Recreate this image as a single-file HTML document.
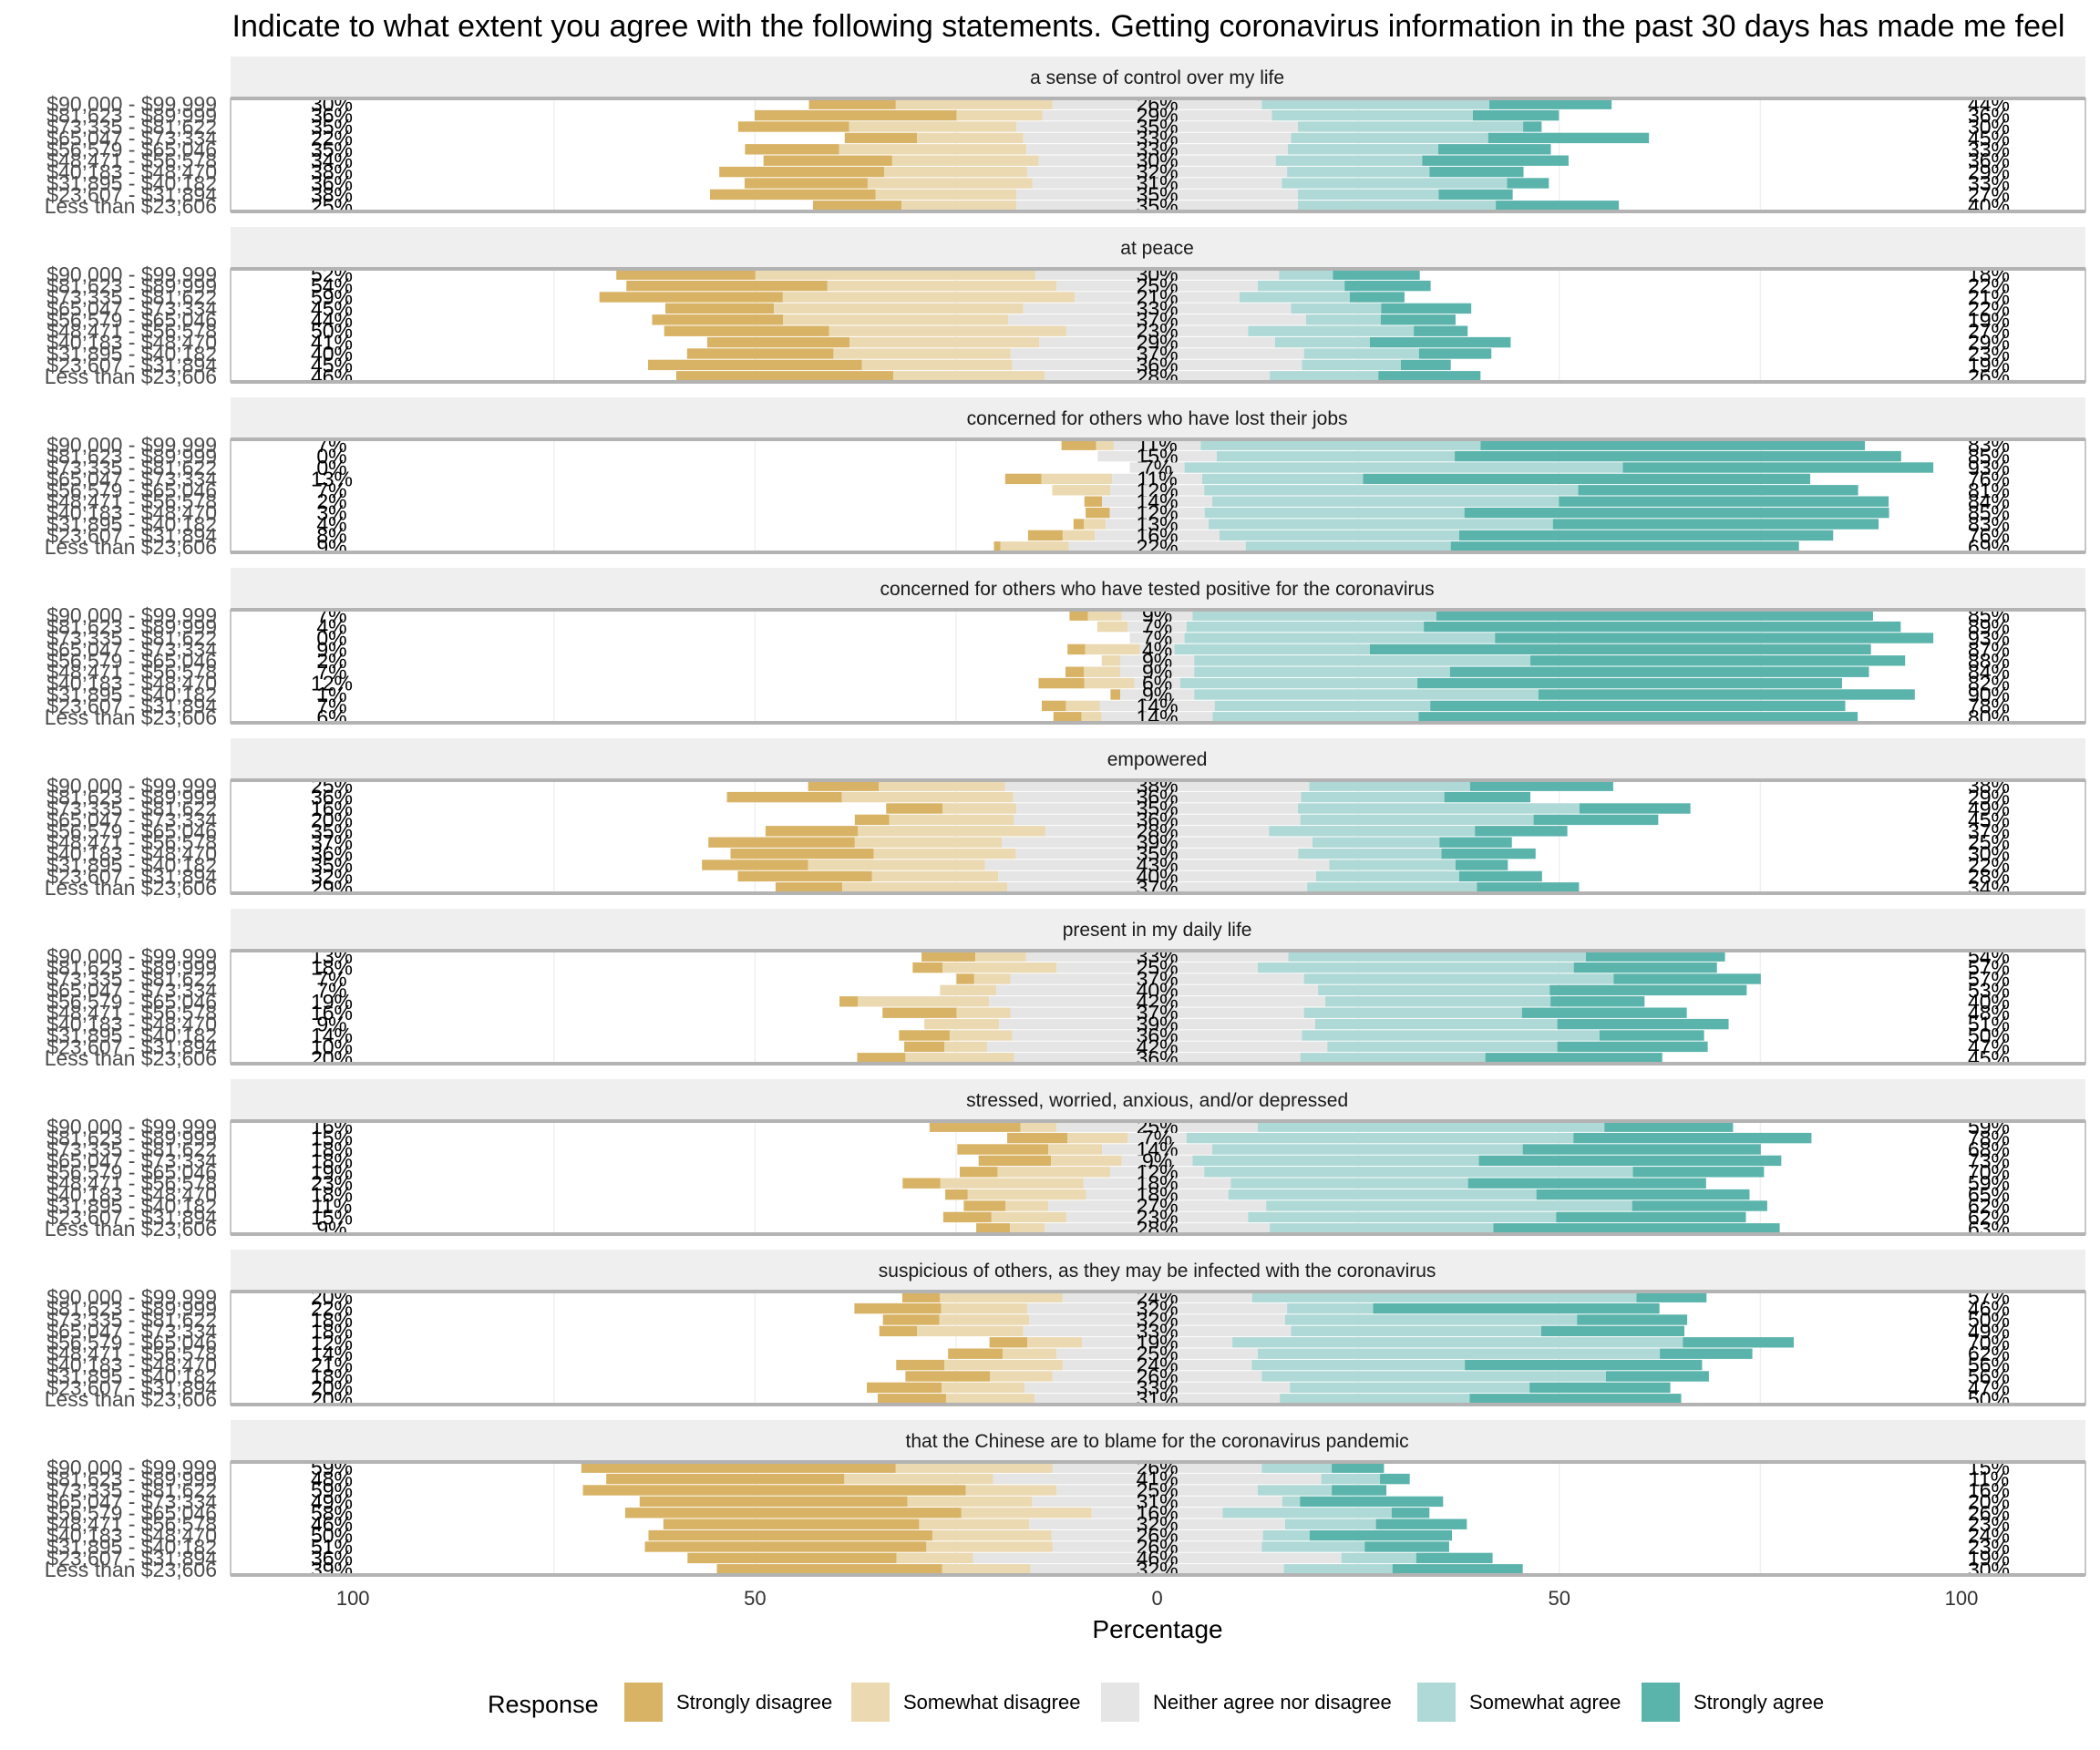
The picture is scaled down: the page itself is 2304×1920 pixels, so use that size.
<!DOCTYPE html>
<html><head><meta charset="utf-8"><style>
html,body{margin:0;padding:0;background:#fff;}
svg{display:block;font-family:"Liberation Sans",sans-serif;}
</style></head><body>
<svg id="chart" width="2304" height="1920" viewBox="0 0 2304 1920" xmlns="http://www.w3.org/2000/svg">
<text x="1260" y="40" font-size="34" text-anchor="middle" fill="#000">Indicate to what extent you agree with the following statements. Getting coronavirus information in the past 30 days has made me feel</text>
<g id="panels"></g>
<g id="xaxis"></g>
<text x="1270" y="1797" font-size="28" text-anchor="middle" fill="#000">Percentage</text>
<g id="legend"></g>
</svg>
<script>
const statements = ["a sense of control over my life","at peace","concerned for others who have lost their jobs","concerned for others who have tested positive for the coronavirus","empowered","present in my daily life","stressed, worried, anxious, and/or depressed","suspicious of others, as they may be infected with the coronavirus","that the Chinese are to blame for the coronavirus pandemic"];
const incomes = ["$90,000 - $99,999","$81,623 - $89,999","$73,335 - $81,622","$65,047 - $73,334","$56,579 - $65,046","$48,471 - $56,578","$40,183 - $48,470","$31,895 - $40,182","$23,607 - $31,894","Less than $23,606"];
const responses = ["Strongly disagree","Somewhat disagree","Neither agree nor disagree","Somewhat agree","Strongly agree"];
const xTicks = [-100,-50,0,50,100];
const xTickLabels = ["100","50","0","50","100"];
const stronglyDisagree = [
[10.8,25.1,13.8,9,11.7,16,20.5,15.3,20.6,11],
[17.3,25,22.8,13.5,16.3,20.5,17.7,18.2,26.6,27],
[4.3,0,0,4.5,0,2.2,3,1.3,4.3,0.8],
[2.3,0,0,2.2,0,2.3,5.7,1.2,3,3.5],
[8.8,14.3,7,4.3,11.5,18.2,17.8,13.2,16.7,8.3],
[6.7,3.7,2.2,0,2.3,9.2,0,6.3,5,6],
[11.3,7.5,11.3,9,4.7,4.7,2.8,5.2,6,4.2],
[4.7,10.8,7,4.7,4.7,6.8,6,10.5,9.3,8.5],
[39.1,29.6,47.6,33.3,41.8,31.8,35.3,35,26,28]];
const somewhatDisagree = [
[19.5,10.7,20.8,13.2,23.3,18.2,17.8,20.5,17.5,14.3],
[34.8,28.5,36.3,31,28,29.5,23.6,22,18.7,18.8],
[2.2,0,0,8.8,7.2,0,0,2.7,4,8.5],
[4.2,3.8,0,6.8,2.3,4.5,6.2,0,4.2,2.5],
[15.7,21.3,9.2,15.5,23.3,18.3,17.7,22,15.7,20.5],
[6.3,14.2,4.5,7,16.3,6.7,9.3,7.8,5.3,13.5],
[4.5,7.5,6.7,8.8,14,17.8,14.7,5.3,9.3,4.3],
[15.2,10.7,11.2,13.2,6.8,6.7,14.7,7.8,10.3,11],
[19.5,18.5,11.3,15.5,16.2,13.7,14.8,15.7,9.5,11]];
const neutral = [
[26,28.5,35,33.3,32.5,29.5,32.3,31,35,35],
[30.3,25,20.5,33.3,37,22.6,29.3,36.5,36,28],
[10.8,14.8,6.8,11.2,11.7,13.7,11.8,12.8,15.5,22],
[8.8,7.3,6.8,4.3,9.2,9.2,5.7,9.2,14.3,13.8],
[37.8,35.8,35,35.6,27.8,38.6,35.1,42.8,39.5,37.3],
[32.6,25,36.5,40,41.8,36.5,39.3,36,42.3,35.6],
[25,7.3,13.7,8.8,11.7,18.3,17.7,27.1,22.6,28],
[23.6,32.3,31.8,33.3,18.7,25,23.5,26,33,30.5],
[26,40.8,25,31.1,16.3,31.8,26.3,26,45.8,31.5]];
const somewhatAgree = [
[28.3,25,28,24.5,18.7,18.2,17.7,28,17.5,24.6],
[6.7,10.8,13.7,11.2,9.3,20.6,11.8,14.3,12.3,13.5],
[34.8,29.6,54.5,20,46.5,43.1,32.3,42.8,29.8,25.5],
[30.3,29.5,38.6,24.3,41.8,31.8,29.5,42.8,26.8,25.6],
[20,17.8,35,29,25.6,15.8,17.8,15.7,17.8,21.1],
[37,39.3,38.5,28.8,28,27.1,30.1,37,28.6,23],
[43.1,48.1,38.6,35.6,53.3,29.5,38.3,45.5,38.3,27.8],
[47.8,10.7,36.3,31.1,56,50,26.5,42.8,29.8,23.6],
[8.7,7.3,9.2,2.2,21,11.3,5.8,12.8,9.3,13.5]];
const stronglyAgree = [
[15.2,10.7,2.3,20,14,18.2,11.7,5.2,9.2,15.3],
[10.8,10.7,6.8,11.2,9.3,6.7,17.5,9,6.2,12.7],
[47.8,55.5,38.6,55.6,34.8,41,52.8,40.5,46.5,43.3],
[54.3,59.3,54.5,62.3,46.6,52.1,52.8,46.8,51.6,54.6],
[17.8,10.7,13.8,15.5,11.5,9,11.7,6.5,10.3,12.7],
[17.3,17.8,18.3,24.5,11.7,20.5,21.3,13,18.7,22],
[16,29.6,29.6,37.6,16.3,29.6,26.5,16.8,23.6,35.6],
[8.7,35.6,13.7,17.8,13.8,11.5,29.5,12.8,17.5,26.3],
[6.5,3.7,6.8,17.8,4.7,11.3,17.7,10.5,9.5,16.2]];

const colors = ["#d8b365","#ebd9b2","#e5e5e5","#afd9d6","#5ab4ac"];
const NS = "http://www.w3.org/2000/svg";
const X0 = 1269.6, PX = 8.824;
const xs = v => X0 + v * PX;
const PL = 253, PR = 2288, PERIOD = 187, STRIP_TOP = 62, PANEL_TOP = 108, PANEL_H = 124;
const band = PANEL_H / incomes.length;
function mk(tag, attrs, parent) { const e = document.createElementNS(NS, tag); for (const k in attrs) e.setAttribute(k, attrs[k]); parent.appendChild(e); return e; }
const panels = document.getElementById("panels");
statements.forEach((st, p) => {
  const g = mk("g", {}, panels);
  
  
  const sTop = STRIP_TOP + p * PERIOD, pTop = PANEL_TOP + p * PERIOD;
  const strip = mk("rect", {x: PL, y: sTop, width: PR - PL, height: pTop - sTop - 2, fill: "#efefef"}, g);
  
  
  const stt = mk("text", {x: X0, y: sTop + (pTop - sTop) / 2 + 7, "font-size": 21, "text-anchor": "middle", fill: "#1a1a1a"}, g);
  stt.textContent = st;
  
  
  [-75,-50,-25,0,25,50,75].forEach(t => mk("line", {x1: xs(t), x2: xs(t), y1: pTop, y2: pTop + PANEL_H, stroke: "#f0f0f0", "stroke-width": 1.5}, g));
  incomes.forEach((inc, r) => {
    const yc = pTop + band * (r + 0.5), h = band * 0.92, y = yc - h / 2;
    const sd = stronglyDisagree[p][r], swd = somewhatDisagree[p][r], n = neutral[p][r], swa = somewhatAgree[p][r], sa = stronglyAgree[p][r];
    const segs = [[-n/2 - swd - sd, sd], [-n/2 - swd, swd], [-n/2, n], [n/2, swa], [n/2 + swa, sa]];
    segs.forEach((s, i) => {
      if (s[1] <= 0) return;
      const rc = mk("rect", {x: xs(s[0]), y: y, width: s[1] * PX, height: h, fill: colors[i]}, g);
      
      
    });
    const lbl = mk("text", {x: 238, y: yc + 8, "font-size": 23, "text-anchor": "end", fill: "#4d4d4d"}, g);
    lbl.textContent = inc;
    
    
    const vals = [[364, sd + swd], [X0, n], [2182, swa + sa]];
    vals.forEach(v => {
      const t = mk("text", {x: v[0], y: yc + 8, "font-size": 23, "text-anchor": "middle", fill: "#000"}, g);
      t.textContent = Math.round(v[1]) + "%";
      
      
    });
  });
  mk("rect", {x: PL, y: pTop, width: PR - PL, height: PANEL_H, fill: "none", stroke: "#b3b3b3", "stroke-width": 1.5}, g);
  mk("line", {x1: PL, x2: PR, y1: pTop, y2: pTop, stroke: "#b3b3b3", "stroke-width": 4}, g);
  mk("line", {x1: PL, x2: PR, y1: pTop + PANEL_H, y2: pTop + PANEL_H, stroke: "#b3b3b3", "stroke-width": 4}, g);
});
const xa = document.getElementById("xaxis");
xTicks.forEach((t, i) => {
  const tx = mk("text", {x: xs(t), y: 1761, "font-size": 22, "text-anchor": "middle", fill: "#333"}, xa);
  tx.textContent = xTickLabels[i];
  
  
});
const lg = document.getElementById("legend");
const lt = mk("text", {x: 535, y: 1879, "font-size": 27, fill: "#000"}, lg);
lt.textContent = "Response";


const keyX = [685, 934, 1208, 1555, 1801];
responses.forEach((rs, i) => {
  const k = mk("rect", {x: keyX[i], y: 1846, width: 42, height: 43, fill: colors[i]}, lg);
  
  
  const t = mk("text", {x: keyX[i] + 57, y: 1875, "font-size": 22, fill: "#000"}, lg);
  t.textContent = rs;
  
  
});
</script>
</body></html>
